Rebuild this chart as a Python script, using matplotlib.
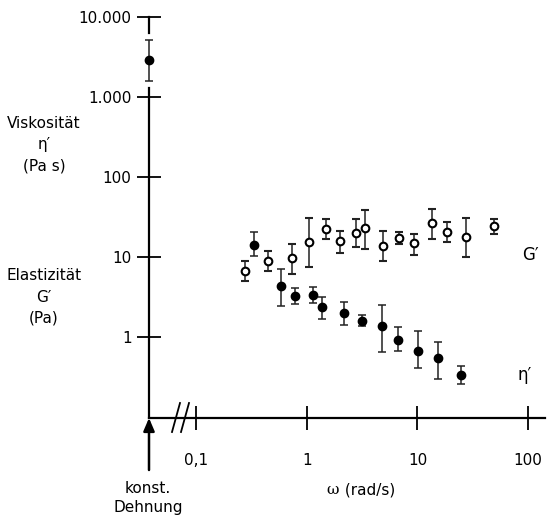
import matplotlib.pyplot as plt
import numpy as np

plt.rcParams['font.family'] = ['Liberation Sans Narrow', 'DejaVu Sans']
plt.rcParams['font.size'] = 11

# G' (open circles)
g_w = [0.275, 0.447, 0.736, 1.04, 1.48, 1.99, 2.76, 3.37, 4.84, 6.84, 9.3, 13.6, 18.6, 27.7, 49.2]
g_val = [6.74, 8.91, 9.72, 15.5, 22.4, 15.8, 19.8, 22.8, 13.7, 17.1, 14.8, 26.4, 20.7, 17.9, 24.6]
g_hi = [8.99, 12.0, 14.5, 30.7, 29.6, 21.3, 30.1, 38.7, 21.3, 20.7, 19.2, 39.5, 27.2, 30.5, 30.1]
g_lo = [5.06, 6.68, 6.13, 7.56, 16.8, 11.3, 13.5, 12.5, 8.84, 14.5, 10.6, 16.8, 15.3, 10.1, 19.2]

# eta' (filled circles)
e_w = [0.331, 0.582, 0.784, 1.13, 1.38, 2.16, 3.15, 4.77, 6.66, 10.2, 15.3, 24.6]
e_val = [14.3, 4.38, 3.23, 3.32, 2.37, 2.0, 1.60, 1.37, 0.925, 0.674, 0.551, 0.332]
e_hi = [20.4, 7.08, 4.10, 4.18, 3.16, 2.72, 1.87, 2.53, 1.32, 1.20, 0.859, 0.434]
e_lo = [10.3, 2.44, 2.61, 2.66, 1.66, 1.40, 1.37, 0.649, 0.674, 0.41, 0.301, 0.256]

# konstante Dehnung
k_val, k_hi, k_lo = 2900, 5130, 1585

xticks = [0.1, 1, 10, 100]
xticklabels = ['0,1', '1', '10', '100']
yticks = [1, 10, 100, 1000, 10000]
yticklabels = ['1', '10', '100', '1.000', '10.000']

W, H = 548, 523
fig = plt.figure(figsize=(W / 100, H / 100), dpi=100)
ax = fig.add_axes([149 / W, (H - 418) / H, (545 - 149) / W, (418 - 10) / H])
xmin, xmax = 0.0372, 142.5
ymin, ymax = 0.0972, 12230
ax.set_xscale('log')
ax.set_yscale('log')
ax.set_xlim(xmin, xmax)
ax.set_ylim(ymin, ymax)
ax.patch.set_alpha(0)

for s in ['top', 'right']:
    ax.spines[s].set_visible(False)
ax.spines['left'].set_bounds(ymin, 1300)
ax.spines['left'].set_linewidth(1.6)
ax.spines['bottom'].set_linewidth(1.6)
# stem under the 10.000 tick
ax.plot([xmin, xmin], [6300, 10000], color='black', lw=1.6, clip_on=False)

ax.set_xticks(xticks)
ax.set_xticklabels(xticklabels)
ax.set_yticks(yticks)
ax.set_yticklabels(yticklabels)
ax.minorticks_off()
ax.tick_params(axis='both', direction='inout', length=17, width=1.3, labelsize=11)
ax.tick_params(axis='x', pad=17)
ax.tick_params(axis='y', pad=4)

eb = dict(ecolor='#222222', elinewidth=1.1, capsize=3.2, capthick=1.1, clip_on=False)
ax.errorbar(g_w, g_val,
            yerr=[np.array(g_val) - np.array(g_lo), np.array(g_hi) - np.array(g_val)],
            fmt='o', ms=5.5, mfc='white', mec='black', mew=1.5, **eb)
ax.errorbar(e_w, e_val,
            yerr=[np.array(e_val) - np.array(e_lo), np.array(e_hi) - np.array(e_val)],
            fmt='o', ms=6, mfc='black', mec='black', **eb)
ax.errorbar([xmin], [k_val], yerr=[[k_val - k_lo], [k_hi - k_val]],
            fmt='o', ms=6, mfc='black', mec='black', zorder=5, **eb)

# axis break "//"
for dx in [172, 181]:
    fig.add_artist(plt.Line2D([dx / W, (dx + 8) / W], [(H - 432) / H, (H - 403) / H],
                              color='black', lw=1.3))

# arrow below the axis
ax.annotate('', xy=(0, 0), xycoords='axes fraction',
            xytext=(0, -52), textcoords='offset pixels',
            arrowprops=dict(arrowstyle='-|>,head_length=0.7,head_width=0.3',
                            color='black', lw=1.8, shrinkA=0, shrinkB=0))

fig.text(148 / W, 1 - 498 / H, 'konst.\nDehnung', ha='center', va='center',
         linespacing=1.35, fontsize=11)
fig.text(339 / W, 1 - 490 / H, 'ω', ha='right', va='center', fontsize=11,
         family=['DejaVu Serif'])
fig.text(340 / W, 1 - 490 / H, ' (rad/s)', ha='left', va='center', fontsize=11)
fig.text(44 / W, 1 - 145 / H, 'Viskosität\nη′\n(Pa s)', ha='center', va='center',
         linespacing=1.5, fontsize=11)
fig.text(44 / W, 1 - 297 / H, 'Elastizität\nG′\n(Pa)', ha='center', va='center',
         linespacing=1.5, fontsize=11)
fig.text(530 / W, 1 - 255 / H, 'G′', ha='center', va='center', fontsize=12)
fig.text(525 / W, 1 - 375 / H, 'η′', ha='center', va='center', fontsize=12)

fig.savefig('out.png', dpi=100)
